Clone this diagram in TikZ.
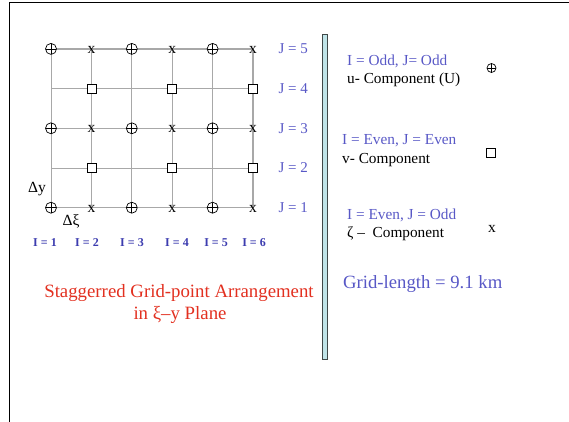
\documentclass[tikz,border=0pt]{standalone}
\usepackage{fontspec}
\setmainfont{Liberation Serif}
\usetikzlibrary{positioning}

\definecolor{labelblue}{RGB}{88,88,198}
\definecolor{indexblue}{RGB}{60,60,175}
\definecolor{titlered}{RGB}{226,48,32}
\definecolor{barfill}{RGB}{192,228,232}
\definecolor{bardraw}{RGB}{64,72,72}
\definecolor{gridgray}{RGB}{168,168,168}

\tikzset{
  uPoint/.style={circle, draw, fill=white, minimum size=11pt, inner sep=0pt, line width=0.7pt,
    path picture={\draw[line width=0.7pt] (path picture bounding box.north) -- (path picture bounding box.south)
      (path picture bounding box.west) -- (path picture bounding box.east);}},
  vPoint/.style={rectangle, draw, fill=white, minimum size=9pt, inner sep=0pt, line width=0.7pt},
  zPoint/.style={inner sep=0pt, font=\fontsize{15.5}{15.5}\selectfont},
  jLabel/.style={anchor=west, text=labelblue, font=\fontsize{15}{17}\selectfont},
  iLabel/.style={text=indexblue, font=\bfseries\fontsize{12}{14}\selectfont},
  legendText/.style={anchor=west, inner sep=0pt, font=\fontsize{15.3}{17}\selectfont},
  titleText/.style={text=titlered, font=\fontsize{18.8}{22}\selectfont},
}

\begin{document}
\begin{tikzpicture}[x=1pt, y=-1pt]

    \useasboundingbox (0,0) rectangle (569,422);

    % --- Frame ---
    \draw[line width=1.3pt] (9.5,422) -- (9.5,2.5) -- (569,2.5);

    % --- Grid points ---
    \foreach \i in {1,...,6} {
        \foreach \j in {1,...,5} {
            \coordinate (g-\i-\j) at ({51+40.4*(\i-1)}, {207.7-39.7*(\j-1)});
        }
    }

    % Grid lines
    \foreach \j in {1,3,5} \draw[gridgray, line width=1.5pt] (g-1-\j) -- (g-6-\j);
    \foreach \j in {2,4} \draw[gridgray, line width=1pt] (g-1-\j) -- (g-6-\j);
    \foreach \i in {1,...,5} \draw[gridgray, line width=1pt] (g-\i-1) -- (g-\i-5);
    \draw[gridgray, line width=1.5pt] (g-6-1) -- (g-6-5);

    % u points (odd I, odd J) and zeta points (even I, odd J)
    \foreach \j in {1,3,5} {
        \foreach \i in {1,3,5} \node[uPoint] (u-\i-\j) at (g-\i-\j) {};
        \foreach \i in {2,4,6} \node[zPoint] (z-\i-\j) at ([yshift=-1pt]g-\i-\j) {x};
    }
    % v points (even I, even J)
    \foreach \j in {2,4} {
        \foreach \i in {2,4,6} \node[vPoint] (v-\i-\j) at (g-\i-\j) {};
    }

    % J labels
    \foreach \j in {1,...,5} \node[jLabel] (j-\j) at (275,{207.7-39.7*(\j-1)}) {J = \j};

    % I labels
    \foreach \i/\x in {1/45,2/87,3/132,4/177,5/216,6/254} \node[iLabel] (i-\i) at (\x,243) {I = \i};

    % Spacings
    \node[font=\fontsize{15.5}{15.5}\selectfont, inner sep=0pt] (dy) at (37,189) {Δy};
    \node[font=\fontsize{15.5}{15.5}\selectfont, inner sep=0pt] (dxi) at (71,221) {Δξ};

    % --- Title ---
    \node[titleText] (title1) at (179,293) {Staggerred Grid-point Arrangement};
    \node[titleText] (title2) at (180,315) {in ξ–y Plane};

    % --- Separator bar ---
    \draw[bardraw, fill=barfill, line width=1pt] (322.5,35) rectangle (327,359);

    % --- Legend ---
    \node[legendText, text=labelblue] (uRule) at (347,61) {I = Odd, J= Odd};
    \node[legendText] (uName) at (347,80) {u- Component (U)};
    \node[uPoint, minimum size=9pt] (uMark) at (491.5,68) {};

    \node[legendText, text=labelblue] (vRule) at (342,141) {I = Even, J = Even};
    \node[legendText] (vName) at (342,160) {v- Component};
    \node[vPoint, minimum size=9pt] (vMark) at (491,153) {};

    \node[legendText, text=labelblue] (zRule) at (347,215) {I = Even, J = Odd};
    \node[legendText] (zName) at (347,234) {ζ –\ \ Component};
    \node[zPoint] (zMark) at (492,229) {x};

    \node[legendText, text=labelblue, font=\fontsize{18.7}{22}\selectfont] (gridLen) at (343,284) {Grid-length = 9.1 km};

\end{tikzpicture}
\end{document}
